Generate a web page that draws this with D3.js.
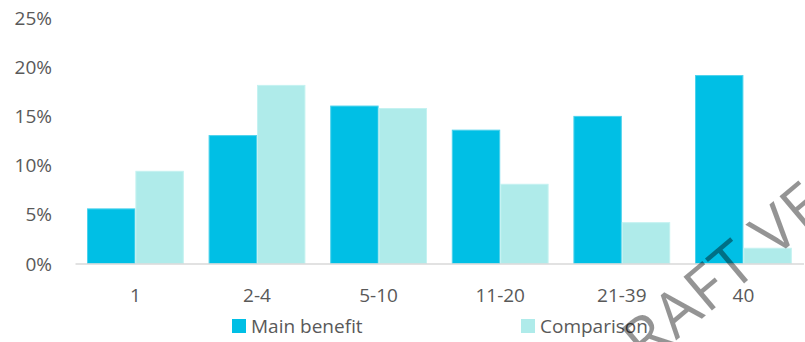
<!DOCTYPE html>
<html>
<head>
<meta charset="utf-8">
<script src="https://cdn.jsdelivr.net/npm/d3@7"></script>
<style>
html,body{margin:0;padding:0;background:#fff;}
svg{display:block;}
</style>
</head>
<body>
<svg id="chart" width="805" height="342"></svg>
<script>
const categories = ["1", "2-4", "5-10", "11-20", "21-39", "40"];
const seriesNames = ["Main benefit", "Comparison"];
const mainBenefit = [0.0555, 0.130, 0.160, 0.1355, 0.1495, 0.191];
const comparison = [0.0937, 0.181, 0.1575, 0.0805, 0.0415, 0.0155];
const yTicks = [0, 0.05, 0.10, 0.15, 0.20, 0.25];
const colors = ["#00BFE5", "#AFEBEA"];
const strokes = ["#4CD2EC", "#C4F2F1"];

const svg = d3.select("#chart");
const font = "'Open Sans', sans-serif";

const x = d3.scaleBand().domain(categories).range([74.6, 804.2]).padding(0);
const x1 = d3.scaleBand().domain(seriesNames).range([12.4, x.bandwidth() - 12.4]).padding(0);
const y = d3.scaleLinear().domain([0, 0.25]).range([263.5, 17.5]);

const data = categories.map((c, i) => ({cat: c, vals: [mainBenefit[i], comparison[i]]}));

// bars
const groups = svg.append("g").selectAll("g").data(data).join("g")
  .attr("transform", d => `translate(${x(d.cat)},0)`);
groups.selectAll("rect").data(d => d.vals.map((v, k) => ({v, k})))
  .join("rect")
  .attr("x", d => x1(seriesNames[d.k]) + 0.5)
  .attr("width", x1.bandwidth() - 1)
  .attr("y", d => y(d.v))
  .attr("height", d => y(0) - y(d.v))
  .attr("fill", d => colors[d.k])
  .attr("stroke", d => strokes[d.k])
  .attr("stroke-width", 1);

// y axis labels
const yAxis = d3.axisLeft(y).tickValues(yTicks).tickFormat(d3.format(".0%")).tickSize(0).tickPadding(0);
const yg = svg.append("g").attr("transform", "translate(52,0)").call(yAxis);
yg.select(".domain").remove();
yg.selectAll("text").attr("font-family", font).attr("font-size", 19).attr("fill", "#595959").attr("dy", "0.35em");

// x axis
const xAxis = d3.axisBottom(x).tickSize(0).tickPadding(0);
const xg = svg.append("g").attr("transform", `translate(0,${y(0)})`).call(xAxis);
xg.select(".domain").attr("stroke", "#D9D9D9").attr("stroke-width", 1.5).attr("d", "M75.5,0.5H804");
xg.selectAll("text").attr("font-family", font).attr("font-size", 19).attr("fill", "#595959").attr("dy", null).attr("y", 38);

// legend
const legendPos = [{sx: 232, tx: 251}, {sx: 521, tx: 540}];
const lg = svg.append("g").selectAll("g").data(seriesNames).join("g");
lg.append("rect").attr("x", (d, i) => legendPos[i].sx).attr("y", 319).attr("width", 14).attr("height", 14)
  .attr("fill", (d, i) => colors[i]);
lg.append("text").attr("x", (d, i) => legendPos[i].tx).attr("y", 333)
  .attr("font-family", font).attr("font-size", 19).attr("fill", "#595959").text(d => d);

// watermark
svg.append("text")
  .attr("transform", "translate(610,396) rotate(-40)")
  .attr("font-family", font).attr("font-size", 62).attr("font-weight", 400)
  .attr("letter-spacing", 1.5)
  .attr("fill", "#000").attr("fill-opacity", 0.42)
  .text("DRAFT VERSION");
</script>
</body>
</html>
